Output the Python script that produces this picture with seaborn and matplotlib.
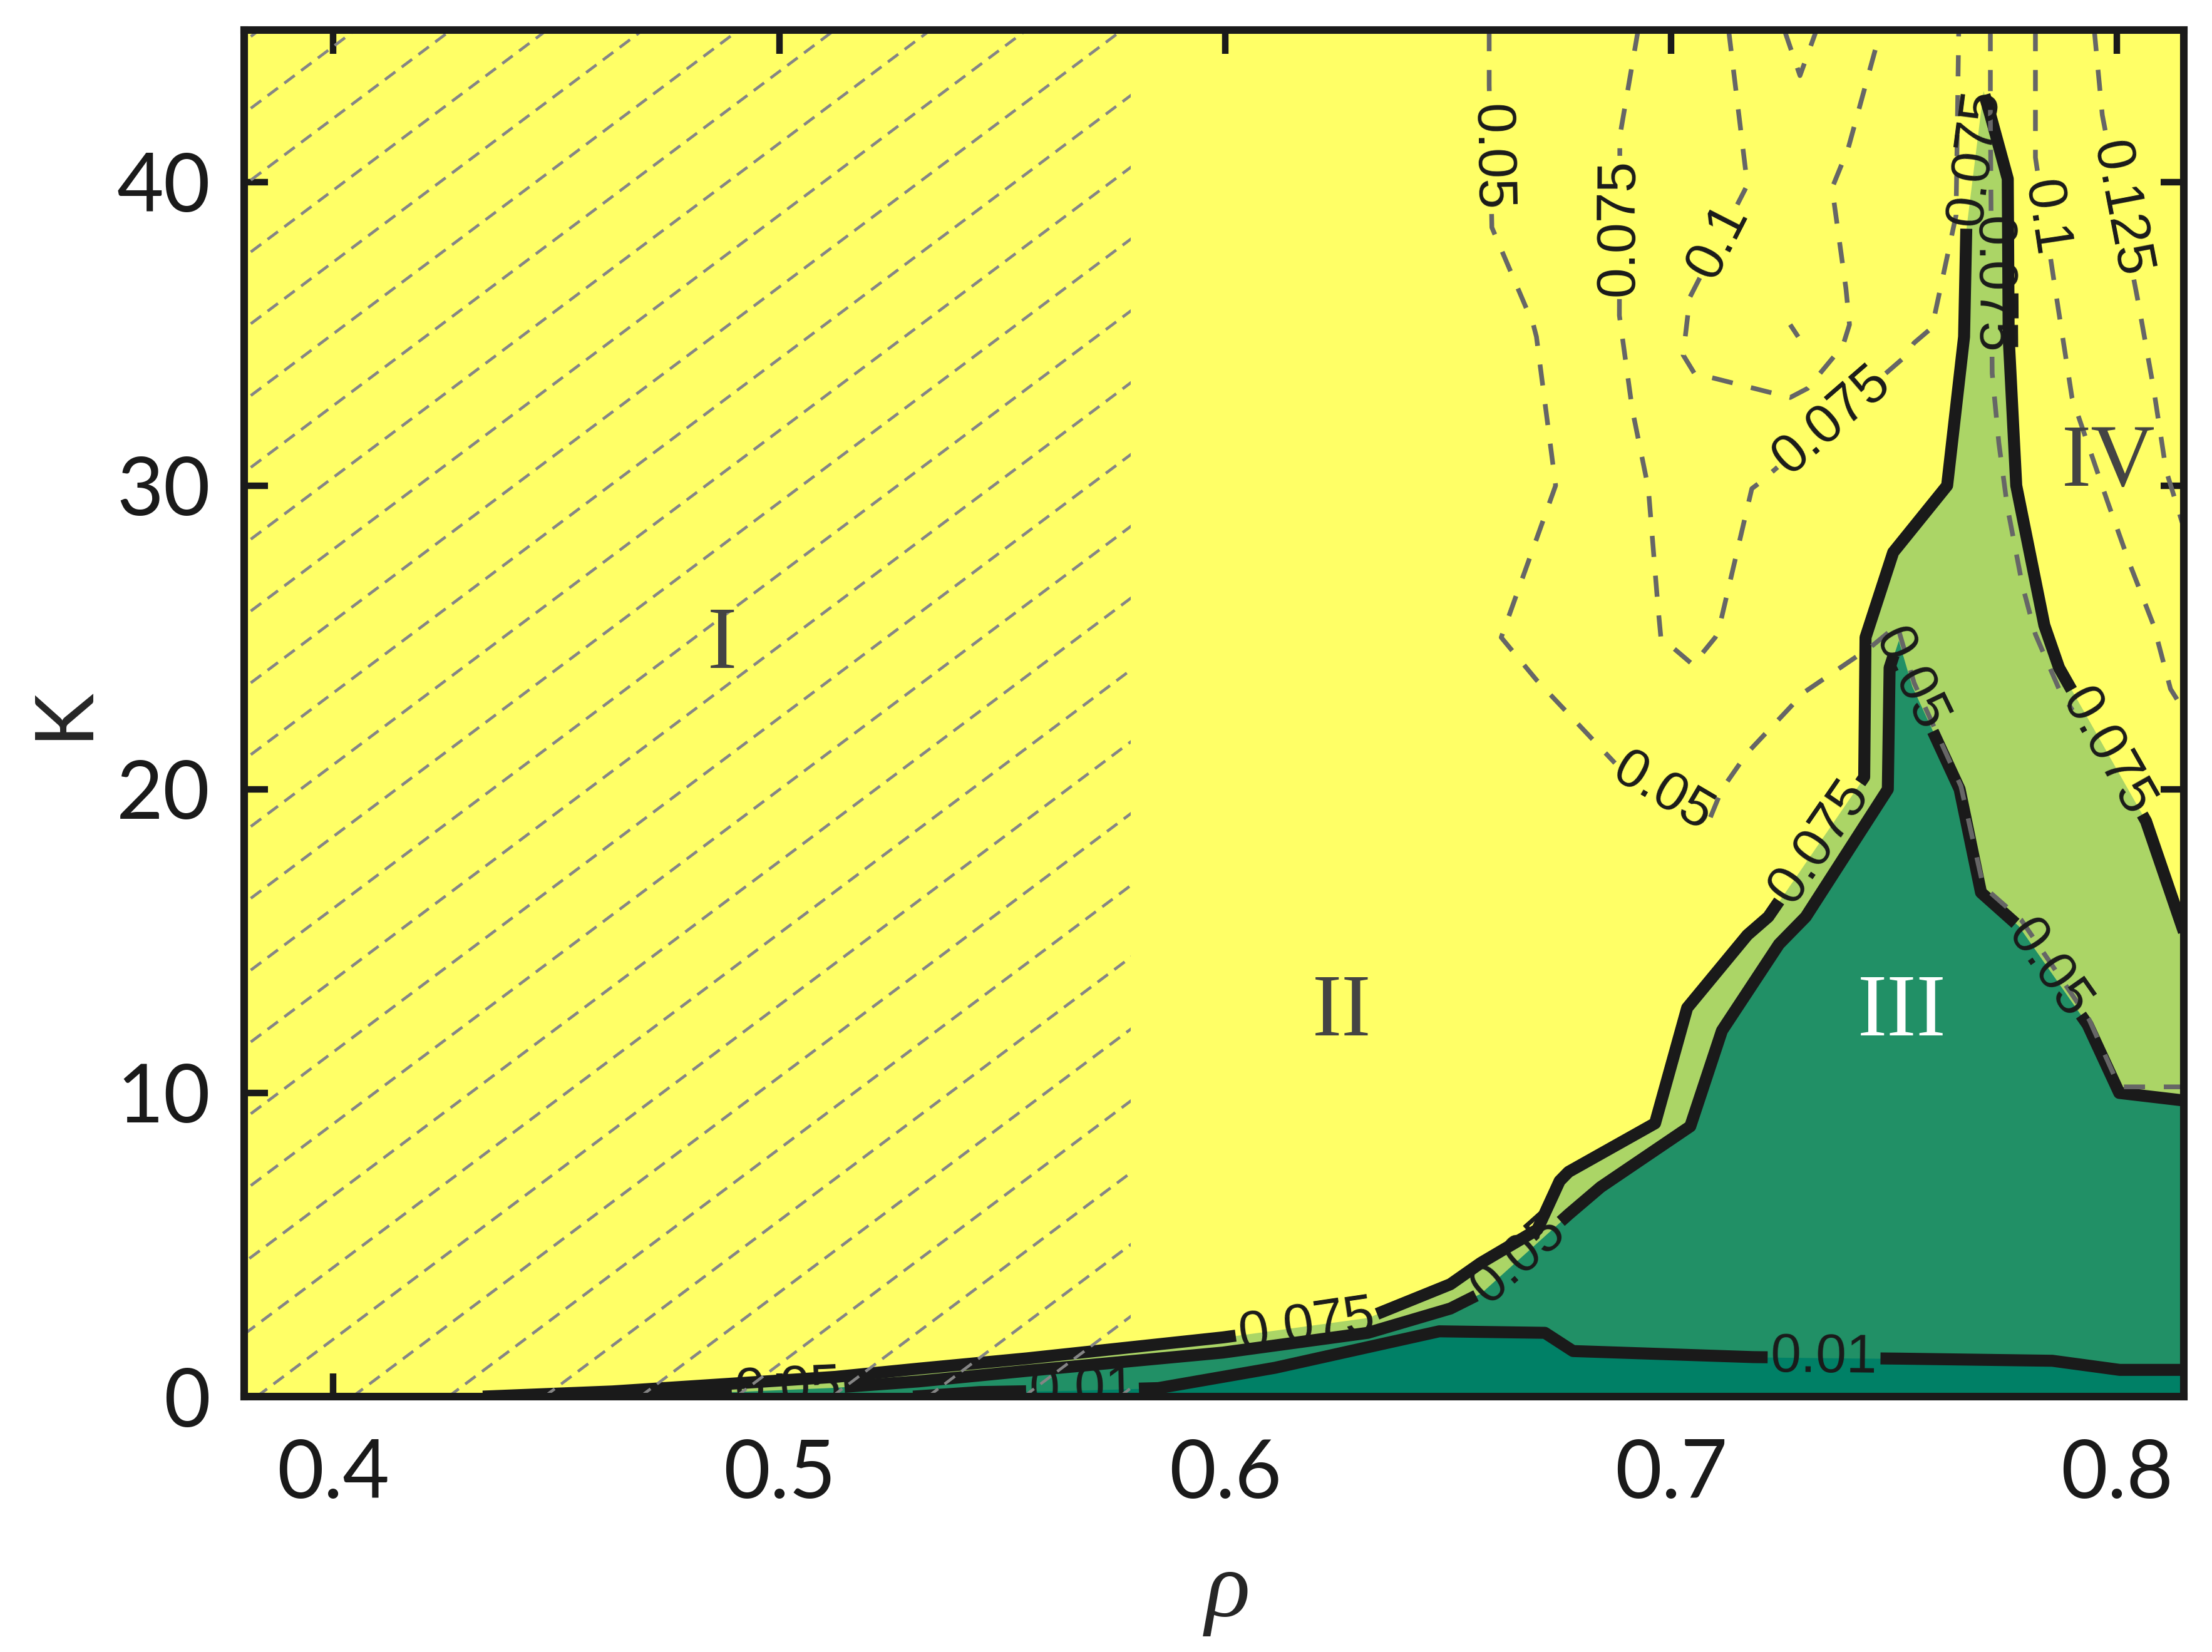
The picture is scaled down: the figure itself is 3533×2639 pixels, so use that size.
import numpy as np
import matplotlib
matplotlib.use("Agg")
import matplotlib.pyplot as plt
import seaborn as sns
from matplotlib.contour import ContourSet
from matplotlib.patches import Rectangle

# ---- solid contours of the phase map (rho, K) -------------------------------
# level 0.075 : yellow / light green boundary
rho_075 = [0.4335, 0.4626, 0.4835, 0.5126, 0.5312, 0.5556, 0.5995, 0.632, 0.6505,
           0.6573, 0.670, 0.675, 0.677, 0.6964, 0.7036, 0.7171, 0.7218, 0.7433,
           0.7436, 0.7498, 0.7619, 0.7657, 0.7662, 0.7700, 0.7716, 0.7755, 0.7757,
           0.7774, 0.7837, 0.787, 0.8065, 0.815]
K_075 = [0.0, 0.17, 0.37, 0.65, 0.92, 1.26, 1.95, 2.6, 3.7,
         4.4, 5.5, 7.1, 7.4, 9.0, 12.8, 15.2, 15.8, 20.4,
         25.0, 27.8, 30.0, 34.9, 38.5, 43.0, 42.2, 40.1, 34.9,
         30.0, 25.4, 24.0, 18.95, 15.3]

# level 0.05 : light green / green boundary
rho_05 = [0.4537, 0.4835, 0.5126, 0.5312, 0.5556, 0.5995, 0.632, 0.6505, 0.6573,
          0.677, 0.6842, 0.7043, 0.7114, 0.7242, 0.7302, 0.7486, 0.7490, 0.751,
          0.754, 0.7647, 0.7695, 0.7779, 0.7934, 0.8005, 0.815]
K_05 = [0.0, 0.12, 0.3, 0.5, 0.85, 1.45, 2.1, 2.9, 3.4,
        6.0, 6.9, 8.9, 12.05, 14.9, 15.8, 20.0, 24.0, 24.9,
        23.4, 20.0, 16.6, 15.5, 12.25, 10.0, 9.75]

# level 0.01 : green / dark green boundary
rho_01 = [0.530, 0.545, 0.565, 0.585, 0.6112, 0.648, 0.6717, 0.678, 0.7185,
          0.7513, 0.7855, 0.8006, 0.815]
K_01 = [0.0, 0.15, 0.2, 0.28, 0.95, 2.15, 2.1, 1.5, 1.3,
        1.25, 1.18, 0.88, 0.88]

# ---- dashed contours of the second quantity --------------------------------
d05_rho = [0.6592, 0.6592, 0.6598, 0.6691, 0.6698, 0.6741, 0.6619, 0.6698, 0.6878,
           0.7086, 0.7114, 0.7171, 0.7299, 0.7449, 0.7507, 0.7545, 0.7650, 0.7700,
           0.7785, 0.7938, 0.8005, 0.815]
d05_K = [45.0, 43.2, 38.5, 35.3, 34.9, 30.0, 25.0, 23.6, 20.8,
         19.0, 20.0, 21.2, 23.2, 24.7, 25.4, 23.5, 20.1, 16.8,
         15.7, 12.4, 10.2, 10.2]

d075a_rho = [0.6926, 0.6885, 0.6884, 0.6913, 0.6949, 0.6970, 0.6977, 0.7049, 0.7099,
             0.7106, 0.7181, 0.7199, 0.7521, 0.7545, 0.7585, 0.7639, 0.7643, 0.7645]
d075a_K = [45.0, 41.5, 35.6, 32.5, 29.9, 26.1, 25.0, 24.1, 25.0,
           25.2, 29.9, 30.1, 34.2, 34.7, 35.2, 38.9, 43.0, 45.0]
d075b_rho = [0.7716, 0.7716, 0.7720, 0.7735, 0.7754, 0.7788, 0.7817, 0.7870, 0.7900]
d075b_K = [45.0, 42.2, 33.7, 31.4, 29.3, 26.7, 25.1, 23.3, 22.6]

d1a_rho = [0.7129, 0.7171, 0.7042, 0.7027, 0.7052, 0.7267, 0.7306, 0.7385, 0.7400,
           0.7392, 0.7361, 0.7397, 0.7470]
d1a_K = [45.0, 39.9, 36.2, 34.3, 33.7, 32.9, 33.2, 34.6, 35.3,
         36.5, 39.8, 41.1, 45.0]
d1b_rho = [0.7267, 0.7285]
d1b_K = [35.3, 34.9]
d1c_rho = [0.7254, 0.7289, 0.7326]
d1c_K = [45.0, 43.5, 45.0]
d1d_rho = [0.7817, 0.7817, 0.7858, 0.7899, 0.7978, 0.8029, 0.8082, 0.8120, 0.815]
d1d_K = [45.0, 40.8, 36.8, 32.9, 29.5, 27.4, 25.4, 23.3, 22.6]

d125_rho = [0.7949, 0.7967, 0.8048, 0.8082, 0.8110, 0.8131, 0.815]
d125_K = [45.0, 42.2, 36.0, 33.2, 30.5, 29.5, 28.6]

solid_levels = [0.01, 0.05, 0.075]
dashed_levels = [0.05, 0.075, 0.1, 0.125]

solid_label_pts = [(0.502, 0.2), (0.568, 0.2), (0.6183, 2.3), (0.666, 4.5),
                   (0.7343, 1.27), (0.733, 18.3), (0.7535, 23.6), (0.7848, 14.1),
                   (0.7975, 21.2), (0.7681, 40.8)]
dashed_label_pts = [(0.6593, 40.8), (0.6885, 38.5), (0.7106, 38.05), (0.736, 32.15),
                    (0.7838, 38.8), (0.8008, 39.1), (0.6982, 19.9), (0.7720, 36.6)]

region_I_edge = 0.5788
regions = ["I", "II", "III", "IV"]
region_rho = [0.4872, 0.6262, 0.7517, 0.7981]
region_K = [24.7, 12.6, 12.6, 30.7]
region_col = ["#444444", "#444444", "white", "#444444"]


def seg(r, k):
    return np.column_stack([r, k])


sns.set_theme(style="ticks")
plt.rcParams["font.family"] = ["Liberation Sans", "DejaVu Sans"]

summer = sns.color_palette("summer", as_cmap=True)
c_yellow = summer(1.0)
c_light = summer(0.67)
c_mid = summer(0.13)
c_dark = summer(0.0)

fig = plt.figure(figsize=(3533 / 300, 2639 / 300), dpi=300)
ax = fig.add_axes([0.1104, 0.1546, 0.8769, 0.8272])
ax.set_xlim(0.38, 0.815)
ax.set_ylim(0, 45)
ax.set_facecolor(c_yellow)

ax.fill_between(rho_075, K_075, 0, color=c_light, lw=0, zorder=1)
ax.fill_between(rho_05, K_05, 0, color=c_mid, lw=0, zorder=1.1)
ax.fill_between(rho_01, K_01, 0, color=c_dark, lw=0, zorder=1.2)

cs = ContourSet(ax, solid_levels,
                [[seg(rho_01, K_01)], [seg(rho_05, K_05)], [seg(rho_075, K_075)]],
                colors="k", linewidths=4.6)
cs.set_zorder(2)

cd = ContourSet(ax, dashed_levels,
                [[seg(d05_rho, d05_K)],
                 [seg(d075a_rho, d075a_K), seg(d075b_rho, d075b_K)],
                 [seg(d1a_rho, d1a_K), seg(d1b_rho, d1b_K), seg(d1c_rho, d1c_K),
                  seg(d1d_rho, d1d_K)],
                 [seg(d125_rho, d125_K)]],
                colors="#666666", linewidths=1.8, linestyles=[(0, (4.5, 4))])
cd.set_zorder(3)

ax.clabel(cs, fmt="%g", manual=solid_label_pts, inline=True, fontsize=21, colors="k")
ax.clabel(cd, fmt="%g", manual=dashed_label_pts, inline=True, fontsize=21, colors="k")

# hatching of region I (dashed diagonal lines)
clip = Rectangle((0.38, 0), region_I_edge - 0.38, 45, transform=ax.transData)
slope = 110.0
for r_top in np.arange(0.3834, 0.99, 0.0215):
    ln, = ax.plot([r_top - 45 / slope, r_top], [0, 45], color="#858585", lw=1.1,
                  ls=(0, (4.5, 2.8)), zorder=4)
    ln.set_clip_path(clip)

for name, x, y, c in zip(regions, region_rho, region_K, region_col):
    ax.text(x, y, name, fontfamily="Liberation Serif", fontsize=34, color=c,
            ha="center", va="center", zorder=6)

ax.set_xticks([0.4, 0.5, 0.6, 0.7, 0.8])
ax.set_yticks([0, 10, 20, 30, 40])
ax.tick_params(direction="in", length=9, width=2.5, color="k", top=True, right=True,
               labelsize=31, labelfontfamily="Lato", labelcolor="k")
ax.tick_params(axis="x", pad=16)
ax.tick_params(axis="y", pad=13)
for sp in ax.spines.values():
    sp.set_linewidth(2.9)
    sp.set_color("k")
    sp.set_zorder(7)

ax.set_xlabel("ρ", fontfamily="Liberation Serif", fontstyle="italic", fontsize=36)
ax.xaxis.set_label_coords(0.507, -0.161)
ax.xaxis.label.set_va("baseline")
ax.set_ylabel("K", fontfamily="Lato", fontsize=31)
ax.yaxis.set_label_coords(-0.093, 0.5)
ax.yaxis.label.set_va("center")
ax.yaxis.label.set_ha("center")

fig.savefig("out.png", dpi=300)
